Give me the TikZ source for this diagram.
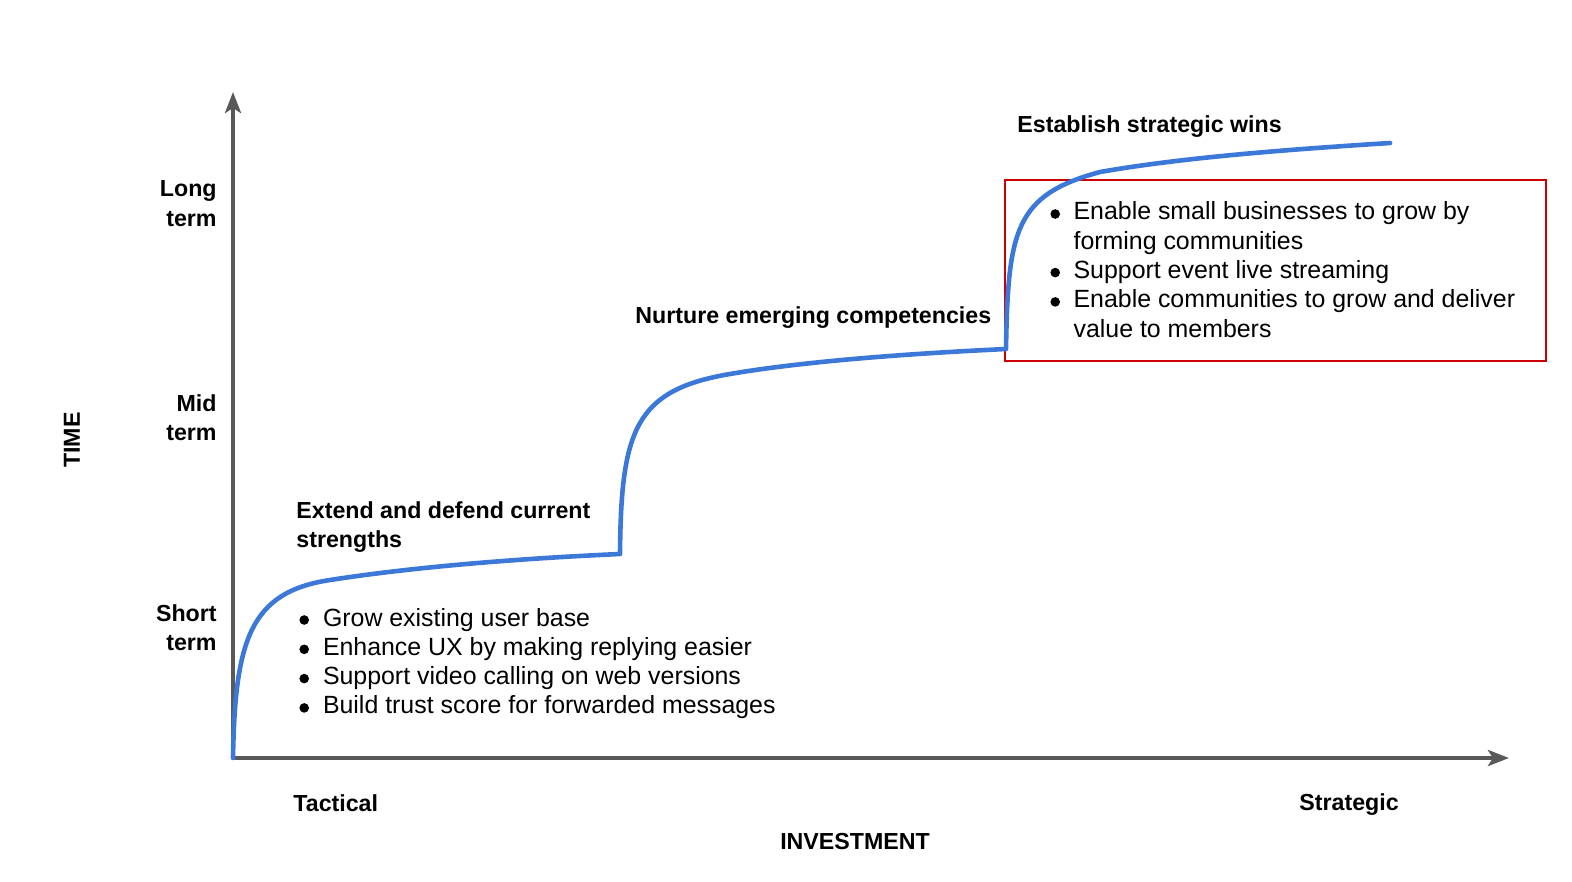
\documentclass[tikz,border=0pt]{standalone}
\usepackage{fontspec}
\setmainfont{Liberation Sans}
\usepackage{tikz}
\usetikzlibrary{arrows.meta}
\definecolor{axisGray}{rgb}{0.35,0.35,0.35}
\definecolor{stepBlue}{rgb}{0.235,0.471,0.847}
\definecolor{focusRed}{rgb}{0.8,0,0}
\newcommand{\headfont}{\fontsize{11.6}{14.65}\selectfont\bfseries}
\newcommand{\itemfont}{\fontsize{12.45}{14.65}\selectfont}
\newcommand{\dotmark}{\tikz[baseline=-3pt]\fill (0,0) circle (2.4pt);}
\tikzstyle{axis} = [draw=axisGray, line width=2pt,
        -{Stealth[length=10.5pt, width=8pt, inset=2.5pt]}]
\tikzstyle{growth} = [draw=stepBlue, line width=2.3pt, line cap=round, line join=round]
\tikzstyle{focus} = [draw=focusRed, line width=1.4pt]
\tikzstyle{level} = [font=\headfont, anchor=base east, inner sep=0pt]
\tikzstyle{heading} = [font=\headfont, anchor=base west, inner sep=0pt]
\tikzstyle{bullets} = [font=\itemfont, anchor=base west, inner sep=0pt]

\begin{document}
\begin{tikzpicture}[x=0.5pt, y=-0.5pt]
        \useasboundingbox (0,0) rectangle (1572,882);
        \coordinate (origin) at (233,758);
        \coordinate (ytip) at (233,92);
        \coordinate (xtip) at (1509,758);
        \draw [axis] (origin) -- (ytip);
        \draw [axis] (origin) -- (xtip);
        % time levels
        \node [level] (long) at (217,197) {\begin{tabular}[t]{@{}r@{}}Long\\term\end{tabular}};
        \node [level] (mid) at (217,411) {\begin{tabular}[t]{@{}r@{}}Mid\\term\end{tabular}};
        \node [level] (short) at (217,621) {\begin{tabular}[t]{@{}r@{}}Short\\term\end{tabular}};
        \node [font=\headfont, rotate=90] (time) at (72,440) {TIME};
        \node [heading] (tactical) at (293,811) {Tactical};
        \node [heading] (strategic) at (1299,810) {Strategic};
        \node [font=\headfont, anchor=base] (investment) at (855,849) {INVESTMENT};
        % stages
        \draw [focus] (1005,180) rectangle (1546,361);
        \node [heading] (extend) at (296,518)
            {\begin{tabular}[t]{@{}l@{}}Extend and defend current\\strengths\end{tabular}};
        \node [bullets] (extendlist) at (299,626)
            {\begin{tabular}[t]{@{}c@{\hspace{7pt}}l@{}}
                \dotmark & Grow existing user base\\
                \dotmark & Enhance UX by making replying easier\\
                \dotmark & Support video calling on web versions\\
                \dotmark & Build trust score for forwarded messages
            \end{tabular}};
        \node [heading] (nurture) at (635,323) {Nurture emerging competencies};
        \node [heading] (establish) at (1017,133) {Establish strategic wins};
        \node [bullets] (establishlist) at (1050,220)
            {\begin{tabular}[t]{@{}c@{\hspace{6.8pt}}l@{}}
                \dotmark & Enable small businesses to grow by\\
                         & forming communities\\
                \dotmark & Support event live streaming\\
                \dotmark & Enable communities to grow and deliver\\
                         & value to members
            \end{tabular}};
        % growth curve
        \draw [growth] (origin)
            .. controls (235,640) and (250,592) .. (330,580)
            .. controls (420,566) and (530,558) .. (620,554)
            .. controls (621,430) and (635,390) .. (730,374)
            .. controls (800,362) and (900,354) .. (1006,349)
            .. controls (1008,230) and (1015,195) .. (1100,172)
            .. controls (1180,158) and (1280,150) .. (1390,143);
    \end{tikzpicture}
\end{document}
